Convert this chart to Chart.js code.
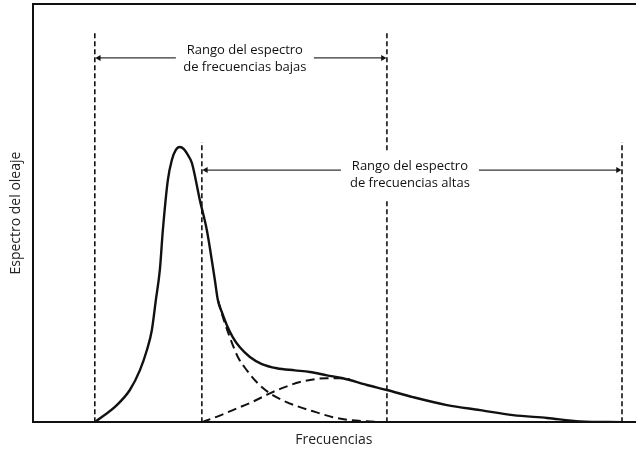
<!DOCTYPE html>
<html>
<head>
<meta charset="utf-8">
<script src="https://cdn.jsdelivr.net/npm/chart.js@4.4.1/dist/chart.umd.min.js"></script>
<style>
  body { margin: 0; background: #fff; }
  #wrap { width: 639px; height: 454px; }
</style>
</head>
<body>
<div id="wrap"><canvas id="spectrum_canvas"></canvas></div>
<script>
// frequency / spectrum values (arbitrary units)
const totalFreq = [0.31, 0.42, 0.485, 0.535, 0.57, 0.595, 0.615, 0.635, 0.65, 0.675, 0.695, 0.715, 0.735, 0.755, 0.775, 0.795, 0.835, 0.87, 0.91, 0.925, 0.945, 0.97, 1.0, 1.035, 1.085, 1.145, 1.22, 1.31, 1.385, 1.47, 1.55, 1.67, 1.77, 1.9, 2.07, 2.235, 2.4, 2.57, 2.735, 2.945];
const totalSpec = [0, 0.41, 0.77, 1.24, 1.72, 2.2, 2.92, 3.64, 4.59, 5.79, 6.27, 6.51, 6.58, 6.53, 6.39, 6.2, 5.31, 4.59, 3.4, 2.92, 2.63, 2.32, 2.03, 1.79, 1.56, 1.39, 1.29, 1.24, 1.2, 1.12, 1.05, 0.89, 0.77, 0.6, 0.41, 0.29, 0.17, 0.1, 0.02, 0];

const lowFreq = [0.925, 0.955, 0.985, 1.025, 1.07, 1.125, 1.185, 1.26, 1.335, 1.415, 1.5, 1.585, 1.67, 1.77];
const lowSpec = [2.92, 2.44, 2.03, 1.56, 1.24, 0.93, 0.69, 0.5, 0.36, 0.24, 0.12, 0.05, 0.02, 0];

const highFreq = [0.845, 0.925, 1.0, 1.095, 1.185, 1.26, 1.335, 1.41, 1.47, 1.535, 1.585];
const highSpec = [0, 0.14, 0.29, 0.48, 0.69, 0.84, 0.96, 1.03, 1.05, 1.05, 1.03];

// range limits (vertical dashed lines)
const limitFreq = [0.31, 1.77, 0.845, 2.945];
const limitTop = [9.33, 9.33, 6.7, 6.7];

// range arrows
const arrowStart = [0.33, 0.865];
const arrowEnd = [1.75, 2.925];
const arrowLevel = [8.71, 6.03];
const arrowText = [
  ['Rango del espectro', 'de frecuencias bajas'],
  ['Rango del espectro', 'de frecuencias altas']
];
const arrowTextFreq = [1.06, 1.885];
const arrowTextLevel = [8.7, 5.91];

const ink = '#111';

function pts(xs, ys) {
  return xs.map((x, i) => ({ x: x, y: ys[i] }));
}

let datasets = [];

limitFreq.forEach((f, i) => {
  datasets.push({
    data: [{ x: f, y: 0 }, { x: f, y: limitTop[i] }],
    borderColor: ink,
    borderWidth: 1.6,
    borderDash: [5, 3],
    pointRadius: 0
  });
});

arrowStart.forEach((s, i) => {
  datasets.push({
    data: [{ x: s, y: arrowLevel[i] }, { x: arrowEnd[i], y: arrowLevel[i] }],
    borderColor: '#333',
    borderWidth: 1.2,
    pointStyle: 'triangle',
    pointRotation: [-90, 90],
    pointRadius: 3.5,
    pointBackgroundColor: ink,
    pointBorderColor: ink,
    pointBorderWidth: 0
  });
});

datasets.push({
  data: pts(lowFreq, lowSpec),
  borderColor: ink,
  borderWidth: 2,
  borderDash: [9, 5],
  pointRadius: 0,
  cubicInterpolationMode: 'monotone'
});
datasets.push({
  data: pts(highFreq, highSpec),
  borderColor: ink,
  borderWidth: 2,
  borderDash: [9, 5],
  pointRadius: 0,
  cubicInterpolationMode: 'monotone'
});
datasets.push({
  data: pts(totalFreq, totalSpec),
  borderColor: ink,
  borderWidth: 2.4,
  pointRadius: 0,
  cubicInterpolationMode: 'monotone'
});

// white boxes with the range captions, drawn over the lines
const rangeLabels = {
  id: 'rangeLabels',
  afterDatasetsDraw(chart) {
    const c = chart.ctx;
    const xs = chart.scales.x, ys = chart.scales.y;
    c.save();
    c.font = '13px "Open Sans"';
    c.textAlign = 'center';
    c.textBaseline = 'middle';
    arrowText.forEach((lines, i) => {
      const cx = xs.getPixelForValue(arrowTextFreq[i]);
      const cy = ys.getPixelForValue(arrowTextLevel[i]);
      c.fillStyle = '#fff';
      c.fillRect(cx - 69, cy - 24, 138, 48);
      c.fillStyle = '#111';
      c.fillText(lines[0], cx, cy - 8.5);
      c.fillText(lines[1], cx, cy + 8.5);
    });
    c.restore();
  }
};

new Chart(document.getElementById('spectrum_canvas'), {
  type: 'line',
  data: { datasets: datasets },
  options: {
    responsive: true,
    maintainAspectRatio: false,
    animation: false,
    layout: { padding: { top: 4, left: 4, right: 0, bottom: 0 } },
    plugins: { legend: { display: false }, tooltip: { enabled: false } },
    scales: {
      x: {
        type: 'linear',
        min: 0,
        max: 3.01,
        grid: { display: false, drawTicks: false },
        ticks: { display: false },
        border: { color: ink, width: 2 },
        title: {
          display: true,
          text: 'Frecuencias',
          color: '#222',
          font: { family: 'Open Sans', size: 14 },
          padding: { top: 9, bottom: 6 }
        }
      },
      xTop: {
        type: 'linear',
        position: 'top',
        min: 0,
        max: 3.01,
        grid: { display: false, drawTicks: false },
        ticks: { display: false },
        border: { color: ink, width: 2 }
      },
      y: {
        min: 0,
        max: 10,
        grid: { display: false, drawTicks: false },
        ticks: { display: false },
        border: { color: ink, width: 2 },
        title: {
          display: true,
          text: 'Espectro del oleaje',
          color: '#222',
          font: { family: 'Open Sans', size: 14 },
          padding: { top: 4, bottom: 8 }
        }
      }
    }
  },
  plugins: [rangeLabels]
});
</script>
</body>
</html>
